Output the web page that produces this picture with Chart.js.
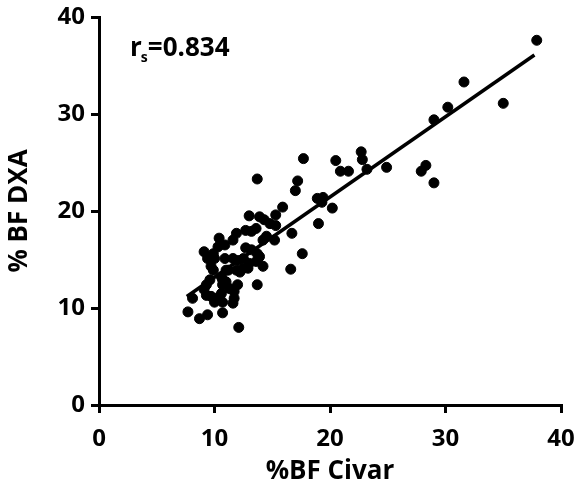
<!DOCTYPE html>
<html>
<head>
<meta charset="utf-8">
<script src="https://cdn.jsdelivr.net/npm/chart.js@4"></script>
<style>
html,body{margin:0;padding:0;background:#fff;}
#c{display:block;}
</style>
</head>
<body>
<canvas id="c" width="579" height="497"></canvas>
<script>
// Data: %BF Civar (x) and % BF DXA (y)
const civarX = [37.9,31.6,30.2,29.0,35.0,28.3,27.9,29.0,
  17.7,20.5,22.7,22.8,20.9,21.6,23.2,24.9,17.2,17.0,18.9,19.4,19.3,20.2,19.0,16.7,17.6,16.6,13.7,
  15.9,15.3,13.0,13.9,14.3,14.8,15.3,
  13.6,13.2,12.7,11.9,11.6,10.4,10.3,10.9,
  14.2,14.5,15.2,12.7,13.2,13.7,13.9,
  9.1,9.9,9.4,10.0,10.9,11.6,12.0,12.5,
  9.7,9.9,11.2,11.9,12.5,12.9,13.0,13.6,14.2,
  10.6,10.7,11.0,9.6,9.3,9.1,9.3,9.7,10.1,
  11.3,11.7,11.7,11.6,10.7,10.0,10.6,
  13.7,12.1,7.7,8.7,9.4,10.7,8.1,12.0,10.7,12.2,11.0];
const dxaY = [37.6,33.3,30.7,29.4,31.1,24.7,24.1,22.9,
  25.4,25.2,26.1,25.3,24.1,24.1,24.3,24.5,23.1,22.1,21.3,21.4,20.9,20.3,18.7,17.7,15.6,14.0,23.3,
  20.4,19.6,19.5,19.4,19.1,18.7,18.5,
  18.2,17.9,18.0,17.7,17.0,17.2,16.3,16.5,
  17.0,17.4,17.0,16.2,16.0,15.6,15.3,
  15.8,15.6,15.1,15.1,15.1,15.1,14.9,15.1,
  14.3,13.9,13.9,13.9,14.1,14.1,14.6,14.8,14.3,
  13.2,12.4,12.7,12.9,12.4,11.9,11.3,11.2,11.0,
  12.0,11.7,11.0,10.5,10.6,10.6,11.5,
  12.4,8.0,9.6,8.9,9.3,9.5,11.0,12.4,12.9,13.7,13.9];
// Regression line
const fitRange = [7.6, 37.7];
const fitSlope = 0.827;
const fitIntercept = 4.9;
const xTicks = [0,10,20,30,40];
const yTicks = [0,10,20,30,40];
const rsLabel = "0.834";

const points = civarX.map((x,i)=>({x:x, y:dxaY[i]}));
const fitLine = fitRange.map(x=>({x:x, y:fitIntercept + fitSlope*x}));

const FONT = "'Open Sans', 'DejaVu Sans', sans-serif";

const annot = {
  id:'annot',
  afterDraw(chart){
    const ctx = chart.ctx;
    const a = chart.chartArea;
    ctx.save();
    ctx.fillStyle = '#000';
    ctx.textBaseline = 'alphabetic';
    ctx.font = "bold 26px " + FONT;
    let x = a.left + 31, y = a.top + 39;
    ctx.fillText('r', x, y);
    let w = ctx.measureText('r').width;
    ctx.font = "bold 14px " + FONT;
    ctx.fillText('s', x + w - 1, y + 6);
    let w2 = ctx.measureText('s').width;
    ctx.font = "bold 26px " + FONT;
    ctx.fillText('=' + rsLabel, x + w + w2 - 1, y);
    ctx.restore();
  }
};

new Chart(document.getElementById('c'), {
  type:'scatter',
  data:{
    datasets:[
      {data: points, backgroundColor:'#000', borderColor:'#000', pointRadius:5, pointHoverRadius:5, order:2},
      {type:'line', data: fitLine, borderColor:'#000', borderWidth:3.5, pointRadius:0, fill:false, order:1}
    ]
  },
  options:{
    responsive:false,
    animation:false,
    events:[],
    layout:{padding:{top:17, right:18, left:0, bottom:0}},
    plugins:{legend:{display:false}, tooltip:{enabled:false}},
    scales:{
      x:{
        type:'linear', min:0, max:40,
        afterBuildTicks: s => { s.ticks = xTicks.map(v=>({value:v})); },
        afterFit: s => { s.height = 92; s.paddingRight = 0; s.paddingLeft = 0; },
        border:{display:true, color:'#000', width:3},
        grid:{display:true, drawOnChartArea:false, drawTicks:true, tickLength:8, color:'#000', lineWidth:3},
        ticks:{color:'#000', padding:12, maxRotation:0, minRotation:0, font:{family:FONT, size:24, weight:'bold'}},
        title:{display:true, text:'%BF Civar', color:'#000', padding:{top:0,bottom:10}, font:{family:FONT, size:26, weight:'bold'}}
      },
      y:{
        type:'linear', min:0, max:40,
        afterBuildTicks: s => { s.ticks = yTicks.map(v=>({value:v})); },
        afterFit: s => { s.width = 99; s.paddingTop = 0; s.paddingBottom = 0; },
        border:{display:true, color:'#000', width:3},
        grid:{display:true, drawOnChartArea:false, drawTicks:true, tickLength:8, color:'#000', lineWidth:3},
        ticks:{color:'#000', padding:6, font:{family:FONT, size:24, weight:'bold'}},
        title:{display:true, text:'% BF DXA', color:'#000', padding:{top:4,bottom:0}, font:{family:FONT, size:26, weight:'bold'}}
      }
    }
  },
  plugins:[annot]
});
</script>
</body>
</html>
